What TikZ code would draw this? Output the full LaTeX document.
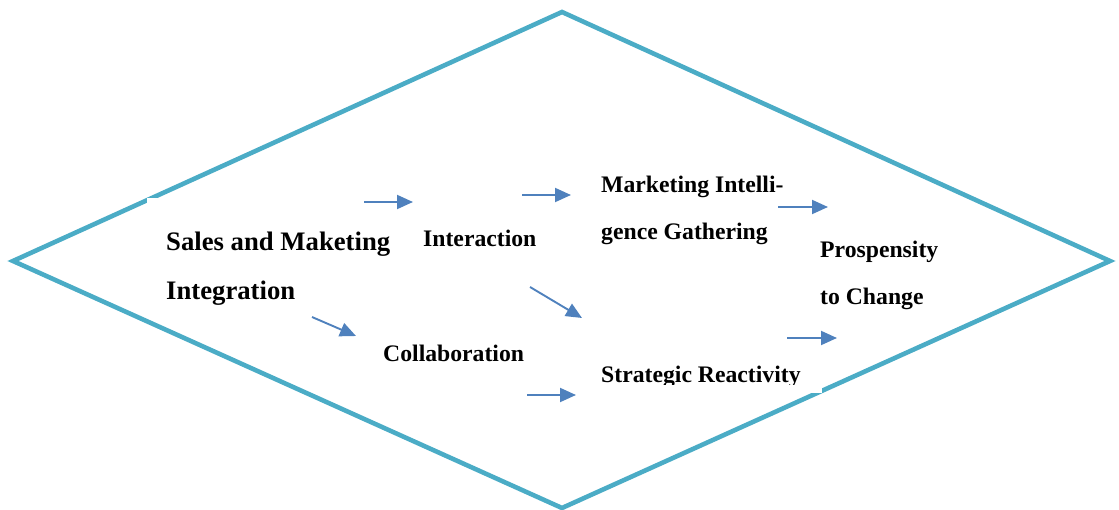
\documentclass[tikz,border=0pt]{standalone}
\usepackage{fontspec}
\setmainfont{Liberation Serif}
\usetikzlibrary{arrows.meta}
\definecolor{diamondteal}{HTML}{4BACC6}
\definecolor{arrowblue}{HTML}{4F81BD}

\begin{document}
\begin{tikzpicture}[x=1pt,y=-1pt,
    flow/.style={arrowblue, line width=1.9pt, -{Triangle[length=16pt,width=14pt]}},
    boxtext/.style={font=\bfseries\fontsize{23.7}{47}\selectfont, inner sep=0pt, anchor=base west, align=left}]
    \useasboundingbox (0,0) rectangle (1119,510);

    % --- 1. corners of the diamond ---
    \coordinate (T) at (562,12);
    \coordinate (R) at (1110,261);
    \coordinate (B) at (562,508);
    \coordinate (L) at (13,261);
    \draw[diamondteal, line width=4.6pt, line join=miter] (T) -- (R) -- (B) -- (L) -- cycle;

    % --- 2. white text boxes cutting the frame ---
    \fill[white] (147,198) rectangle (300,310);
    \fill[white] (595,350) rectangle (822,393);

    % --- 3. the texts (base = last line) ---
    \node[boxtext, font=\bfseries\fontsize{26.7}{49}\selectfont] (sales) at (166,300) {Sales and Maketing\\Integration};
    \node[boxtext] (inter) at (423,247) {Interaction};
    \node[boxtext] (collab) at (383,362) {Collaboration};
    \node[boxtext] (intel) at (601,240) {Marketing Intelli-\\gence Gathering};
    \node[boxtext] (prop) at (820,305) {Prospensity\\to Change};
    \begin{scope}
        \clip (590,340) rectangle (830,385);
        \node[boxtext] (react) at (601,383) {Strategic Reactivity};
    \end{scope}

    % --- 4. end points of the arrows ---
    \coordinate (a1s) at (364,202); \coordinate (a1e) at (413,202);
    \coordinate (a2s) at (522,195); \coordinate (a2e) at (571,195);
    \coordinate (a3s) at (778,207); \coordinate (a3e) at (828,207);
    \coordinate (a4s) at (312,317); \coordinate (a4e) at (356,336);
    \coordinate (a5s) at (530,287); \coordinate (a5e) at (582,318);
    \coordinate (a6s) at (787,338); \coordinate (a6e) at (837,338);
    \coordinate (a7s) at (527,395); \coordinate (a7e) at (576,395);

    \foreach \i in {1,...,7}
        \draw[flow] (a\i s) -- (a\i e);
\end{tikzpicture}
\end{document}
